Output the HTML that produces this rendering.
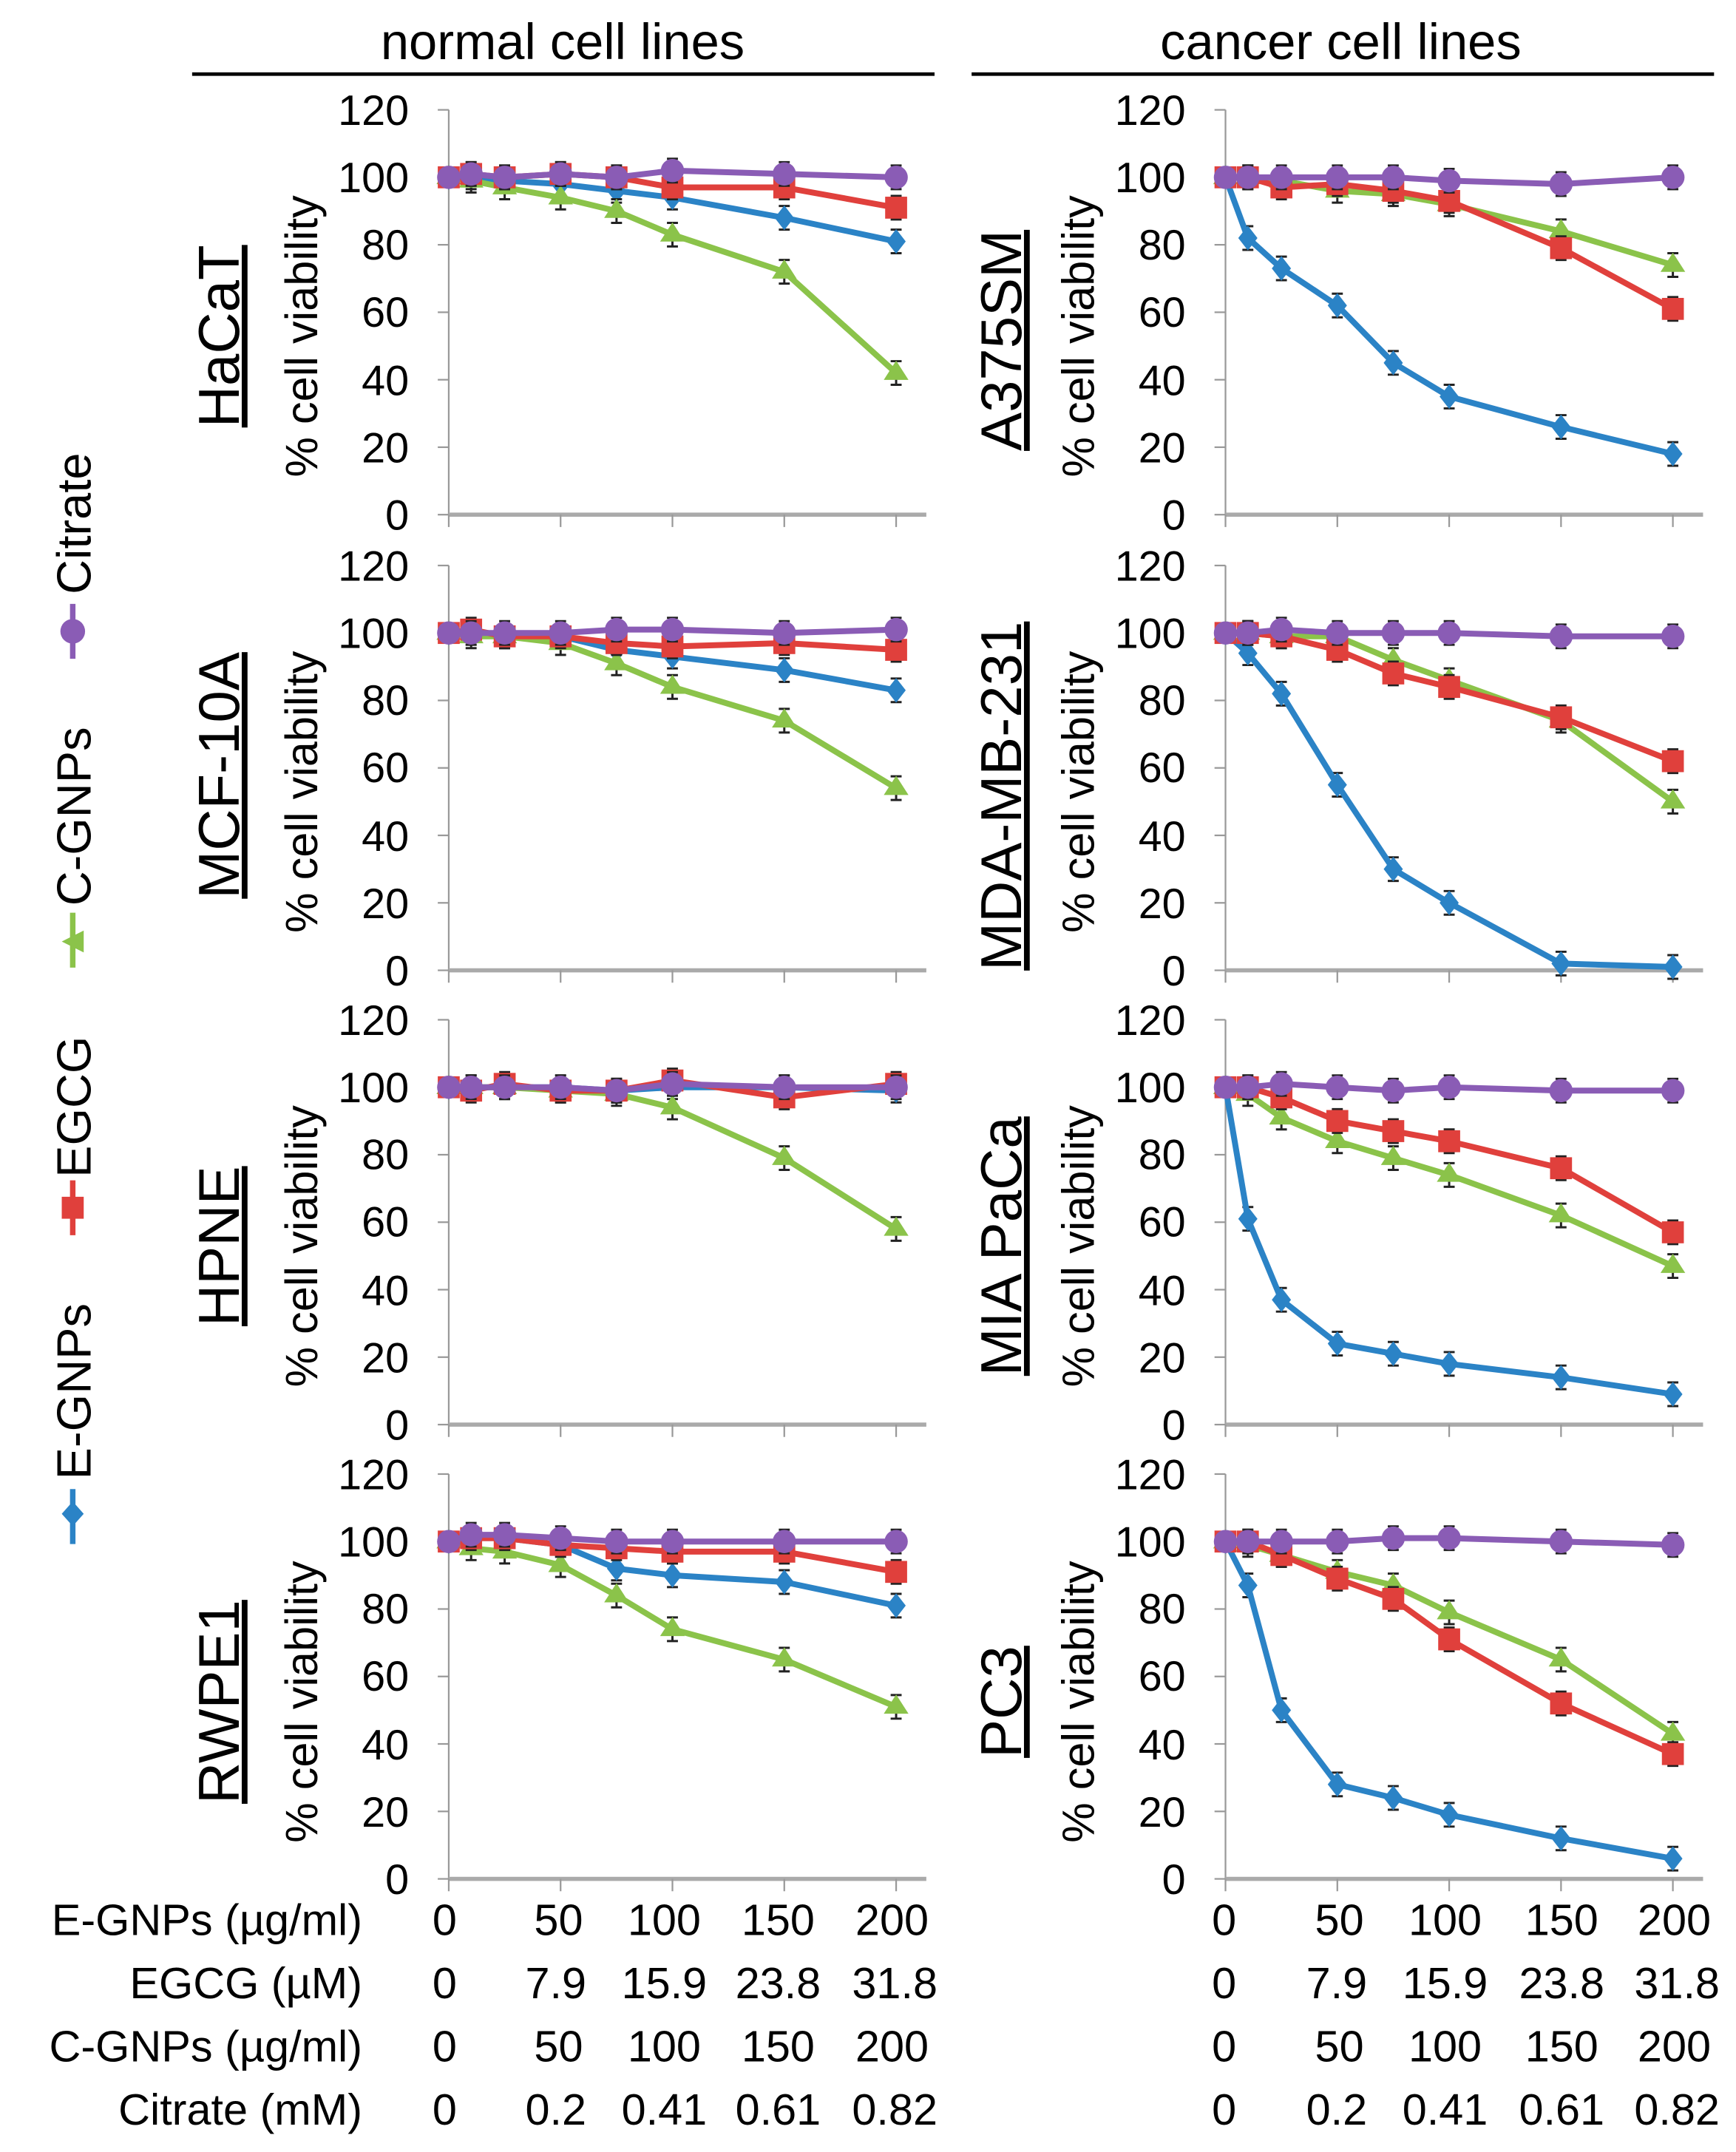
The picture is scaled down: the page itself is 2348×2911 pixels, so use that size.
<!DOCTYPE html>
<html><head><meta charset="utf-8"><style>
html,body{margin:0;padding:0;background:#fff;}
svg{display:block;}
text{font-family:"Liberation Sans",Arial,sans-serif;fill:#000;}
</style></head><body>
<svg id="s" width="2348" height="2911" viewBox="0 0 1265 1568" preserveAspectRatio="none" xmlns="http://www.w3.org/2000/svg">
<text x="410" y="43" font-size="37" text-anchor="middle">normal cell lines</text>
<line x1="140" y1="54" x2="681" y2="54" stroke="#000" stroke-width="2.5"/>
<text x="977" y="43" font-size="37" text-anchor="middle">cancer cell lines</text>
<line x1="708" y1="54" x2="1249" y2="54" stroke="#000" stroke-width="2.5"/>

<g id="plots"></g>

<g font-size="31" text-anchor="end">
<g transform="translate(0,80)"><text x="298" y="11">120</text><text x="298" y="60">100</text><text x="298" y="109">80</text><text x="298" y="158">60</text><text x="298" y="208">40</text><text x="298" y="257">20</text><text x="298" y="306">0</text></g>
<g transform="translate(0,412)"><text x="298" y="11">120</text><text x="298" y="60">100</text><text x="298" y="109">80</text><text x="298" y="158">60</text><text x="298" y="208">40</text><text x="298" y="257">20</text><text x="298" y="306">0</text></g>
<g transform="translate(0,743)"><text x="298" y="11">120</text><text x="298" y="60">100</text><text x="298" y="109">80</text><text x="298" y="158">60</text><text x="298" y="208">40</text><text x="298" y="257">20</text><text x="298" y="306">0</text></g>
<g transform="translate(0,1074)"><text x="298" y="11">120</text><text x="298" y="60">100</text><text x="298" y="109">80</text><text x="298" y="158">60</text><text x="298" y="208">40</text><text x="298" y="257">20</text><text x="298" y="306">0</text></g>
<g transform="translate(566,80)"><text x="298" y="11">120</text><text x="298" y="60">100</text><text x="298" y="109">80</text><text x="298" y="158">60</text><text x="298" y="208">40</text><text x="298" y="257">20</text><text x="298" y="306">0</text></g>
<g transform="translate(566,412)"><text x="298" y="11">120</text><text x="298" y="60">100</text><text x="298" y="109">80</text><text x="298" y="158">60</text><text x="298" y="208">40</text><text x="298" y="257">20</text><text x="298" y="306">0</text></g>
<g transform="translate(566,743)"><text x="298" y="11">120</text><text x="298" y="60">100</text><text x="298" y="109">80</text><text x="298" y="158">60</text><text x="298" y="208">40</text><text x="298" y="257">20</text><text x="298" y="306">0</text></g>
<g transform="translate(566,1074)"><text x="298" y="11">120</text><text x="298" y="60">100</text><text x="298" y="109">80</text><text x="298" y="158">60</text><text x="298" y="208">40</text><text x="298" y="257">20</text><text x="298" y="306">0</text></g>
</g>

<g font-size="33" text-anchor="middle">
<text transform="translate(231,245) rotate(-90)">% cell viability</text>
<text transform="translate(231,577) rotate(-90)">% cell viability</text>
<text transform="translate(231,908) rotate(-90)">% cell viability</text>
<text transform="translate(231,1240) rotate(-90)">% cell viability</text>
<text transform="translate(797,245) rotate(-90)">% cell viability</text>
<text transform="translate(797,577) rotate(-90)">% cell viability</text>
<text transform="translate(797,908) rotate(-90)">% cell viability</text>
<text transform="translate(797,1240) rotate(-90)">% cell viability</text>
</g>
<g font-size="42" text-anchor="middle" text-decoration="underline">
<text transform="translate(174,245) rotate(-90)">HaCaT</text>
<text transform="translate(174,565) rotate(-90)">MCF-10A</text>
<text transform="translate(174,908) rotate(-90)">HPNE</text>
<text transform="translate(174,1240) rotate(-90)">RWPE1</text>
<text transform="translate(744,248) rotate(-90)">A375SM</text>
<text transform="translate(744,580) rotate(-90)">MDA-MB-231</text>
<text transform="translate(744,908) rotate(-90)">MIA PaCa</text>
<text transform="translate(744,1240) rotate(-90)">PC3</text>
</g>

<g font-size="35">
<line x1="53" y1="1125" x2="53" y2="1085" stroke="#2b83c6" stroke-width="4"/>
<path d="M53 1094 l8 9 l-8 9 l-8 -9z" fill="#2b83c6"/>
<text transform="translate(66,1078) rotate(-90)">E-GNPs</text>
<line x1="53" y1="900" x2="53" y2="860" stroke="#e0403c" stroke-width="4"/>
<rect x="45" y="872" width="16" height="16" fill="#e0403c"/>
<text transform="translate(66,858) rotate(-90)">EGCG</text>
<line x1="53" y1="705" x2="53" y2="665" stroke="#8bc34a" stroke-width="4"/>
<path d="M45 686 l16 -8 l0 16z" fill="#8bc34a"/>
<text transform="translate(66,660) rotate(-90)">C-GNPs</text>
<line x1="53" y1="480" x2="53" y2="440" stroke="#8a5cb5" stroke-width="4"/>
<circle cx="53" cy="460" r="9" fill="#8a5cb5"/>
<text transform="translate(66,433) rotate(-90)">Citrate</text>
</g>

<g font-size="32">
<g text-anchor="end">
<text x="264" y="1410">E-GNPs (µg/ml)</text>
<text x="264" y="1456">EGCG (µM)</text>
<text x="264" y="1502">C-GNPs (µg/ml)</text>
<text x="264" y="1548">Citrate (mM)</text>
</g>
<g text-anchor="middle">
<text x="324" y="1410">0</text><text x="407" y="1410">50</text><text x="484" y="1410">100</text><text x="567" y="1410">150</text><text x="650" y="1410">200</text>
<text x="324" y="1456">0</text><text x="405" y="1456">7.9</text><text x="484" y="1456">15.9</text><text x="567" y="1456">23.8</text><text x="652" y="1456">31.8</text>
<text x="324" y="1502">0</text><text x="407" y="1502">50</text><text x="484" y="1502">100</text><text x="567" y="1502">150</text><text x="650" y="1502">200</text>
<text x="324" y="1548">0</text><text x="405" y="1548">0.2</text><text x="484" y="1548">0.41</text><text x="567" y="1548">0.61</text><text x="652" y="1548">0.82</text>
<text x="892" y="1410">0</text><text x="976" y="1410">50</text><text x="1053" y="1410">100</text><text x="1138" y="1410">150</text><text x="1220" y="1410">200</text>
<text x="892" y="1456">0</text><text x="974" y="1456">7.9</text><text x="1053" y="1456">15.9</text><text x="1138" y="1456">23.8</text><text x="1222" y="1456">31.8</text>
<text x="892" y="1502">0</text><text x="976" y="1502">50</text><text x="1053" y="1502">100</text><text x="1138" y="1502">150</text><text x="1220" y="1502">200</text>
<text x="892" y="1548">0</text><text x="974" y="1548">0.2</text><text x="1053" y="1548">0.41</text><text x="1138" y="1548">0.61</text><text x="1222" y="1548">0.82</text>
</g>
</g>
</svg>
<script>
(function(){
var NS="http://www.w3.org/2000/svg",G=document.getElementById("plots");
function el(t,a){var e=document.createElementNS(NS,t);for(var k in a)e.setAttribute(k,a[k]);G.appendChild(e);return e;}
var X=[0,10,25,50,75,100,150,200];
var C={b:"#2b83c6",r:"#e0403c",g:"#8bc34a",p:"#8a5cb5"};
var panels=[
[327,80,{p:[100,101,100,101,100,102,101,100],r:[100,101,100,101,100,97,97,91],b:[100,100,99,98,96,94,88,81],g:[100,99,97,94,90,83,72,42]}],
[327,412,{p:[100,100,100,100,101,101,100,101],r:[100,101,99,99,97,96,97,95],b:[100,100,99,99,95,93,89,83],g:[100,99,99,97,91,84,74,54]}],
[327,743,{p:[100,100,100,100,99,101,100,100],r:[100,99,101,99,99,102,97,101],b:[100,100,100,100,99,100,100,99],g:[100,100,100,99,98,94,79,58]}],
[327,1074,{p:[100,102,102,101,100,100,100,100],r:[100,101,101,99,98,97,97,91],b:[100,101,101,99,92,90,88,81],g:[100,98,97,93,84,74,65,51]}],
[893,80,{p:[100,100,100,100,100,99,98,100],r:[100,100,97,98,96,93,79,61],g:[100,100,99,96,95,92,84,74],b:[100,82,73,62,45,35,26,18]}],
[893,412,{p:[100,100,101,100,100,100,99,99],r:[100,100,99,95,88,84,75,62],g:[100,100,99,99,92,86,74,50],b:[100,94,82,55,30,20,2,1]}],
[893,743,{p:[100,100,101,100,99,100,99,99],r:[100,100,97,90,87,84,76,57],g:[100,98,91,84,79,74,62,47],b:[100,61,37,24,21,18,14,9]}],
[893,1074,{p:[100,100,100,100,101,101,100,99],r:[100,100,96,89,83,71,52,37],g:[100,99,96,91,87,79,65,43],b:[100,87,50,28,24,19,12,6]}]
];
panels.forEach(function(P){
 var x0=P[0],t=P[1],sx=1.63,sy=2.458,by=t+295;
 function px(v){return x0+v*sx;} function py(v){return by-v*sy;}
 el("line",{x1:x0,y1:t,x2:x0,y2:by,stroke:"#999","stroke-width":1.2});
 el("line",{x1:x0,y1:by,x2:x0+348,y2:by,stroke:"#aaa","stroke-width":3});
 for(var i=0;i<=6;i++){var yy=py(i*20);el("line",{x1:x0-8,y1:yy,x2:x0,y2:yy,stroke:"#999","stroke-width":1.2});}
 [0,50,100,150,200].forEach(function(v){el("line",{x1:px(v),y1:by,x2:px(v),y2:by+9,stroke:"#999","stroke-width":1.2});});
 ["b","g","r","p"].forEach(function(k){
  var d=P[2][k],pts=d.map(function(v,i){return px(X[i])+","+py(v);}).join(" ");
  d.forEach(function(v,i){var x=px(X[i]),y=py(v),e=(i==0?2.5:3.5)*sy;
   el("path",{d:"M"+x+" "+(y-e)+"V"+(y+e)+"M"+(x-4)+" "+(y-e)+"h8M"+(x-4)+" "+(y+e)+"h8",stroke:"#222","stroke-width":1.6,fill:"none"});});
  el("polyline",{points:pts,fill:"none",stroke:C[k],"stroke-width":4.3,"stroke-linejoin":"round"});
  d.forEach(function(v,i){var x=px(X[i]),y=py(v);
   if(k=="b")el("path",{d:"M"+x+" "+(y-9)+"l7 9l-7 9l-7 -9z",fill:C.b});
   if(k=="r")el("rect",{x:x-8,y:y-8,width:16,height:16,fill:C.r});
   if(k=="g")el("path",{d:"M"+x+" "+(y-9)+"l9 14h-18z",fill:C.g});
   if(k=="p")el("circle",{cx:x,cy:y,r:8.5,fill:C.p});});
 });
});
})();
</script>
</body></html>
